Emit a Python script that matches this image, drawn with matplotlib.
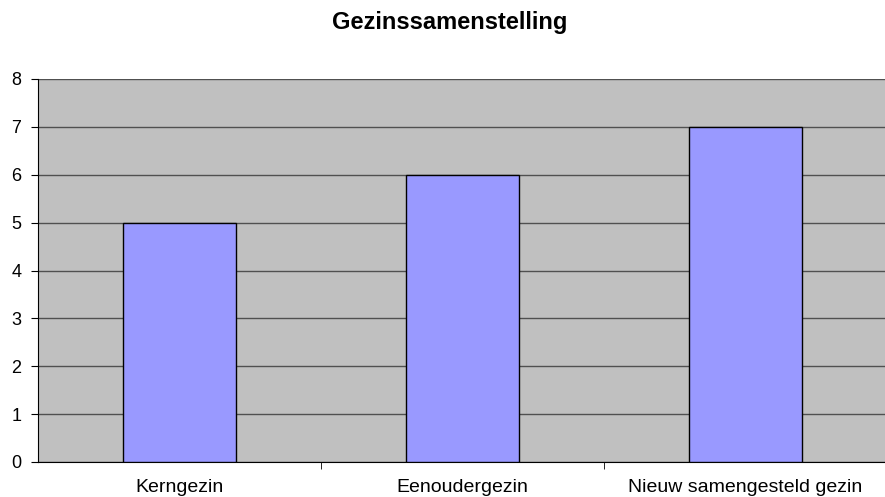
import numpy as np
import matplotlib
matplotlib.use('Agg')
from matplotlib import pyplot as plt

categories = ['Kerngezin', 'Eenoudergezin', 'Nieuw samengesteld gezin']
values = [5, 6, 7]

plt.rcParams['font.family'] = ['Liberation Sans', 'DejaVu Sans']

fig = plt.figure(figsize=(8.85, 4.97), dpi=100)
ax = fig.add_axes([38/885, 1-462/497, 847/885, (462-79)/497])
ax.set_facecolor('#C0C0C0')

x = np.arange(len(categories))
ax.bar(x, values, width=0.4, color='#9999FF', edgecolor='black', linewidth=1, zorder=3)

ax.set_xlim(-0.5, -0.5 + 847/283)
ax.set_ylim(0, 8)
ax.set_yticks(range(0, 9))
ax.yaxis.grid(True, color='#505050', linewidth=1)
ax.set_axisbelow(True)

ax.set_xticks(x)
ax.set_xticklabels(categories, fontsize=14)
ax.tick_params(axis='x', length=0, pad=12)
ax.set_xticks([0.5, 1.5], minor=True)
ax.tick_params(axis='x', which='minor', length=5, direction='out', color='black')
ax.tick_params(axis='y', length=5, direction='out', pad=7, labelsize=13)

for s in ['top', 'right']:
    ax.spines[s].set_visible(False)
ax.spines['left'].set_color('black')
ax.spines['bottom'].set_color('black')

fig.suptitle('Gezinssamenstelling', x=450/885, y=1-22/497, fontsize=17, fontweight='bold', va='center')

fig.savefig('out.png', dpi=100)
